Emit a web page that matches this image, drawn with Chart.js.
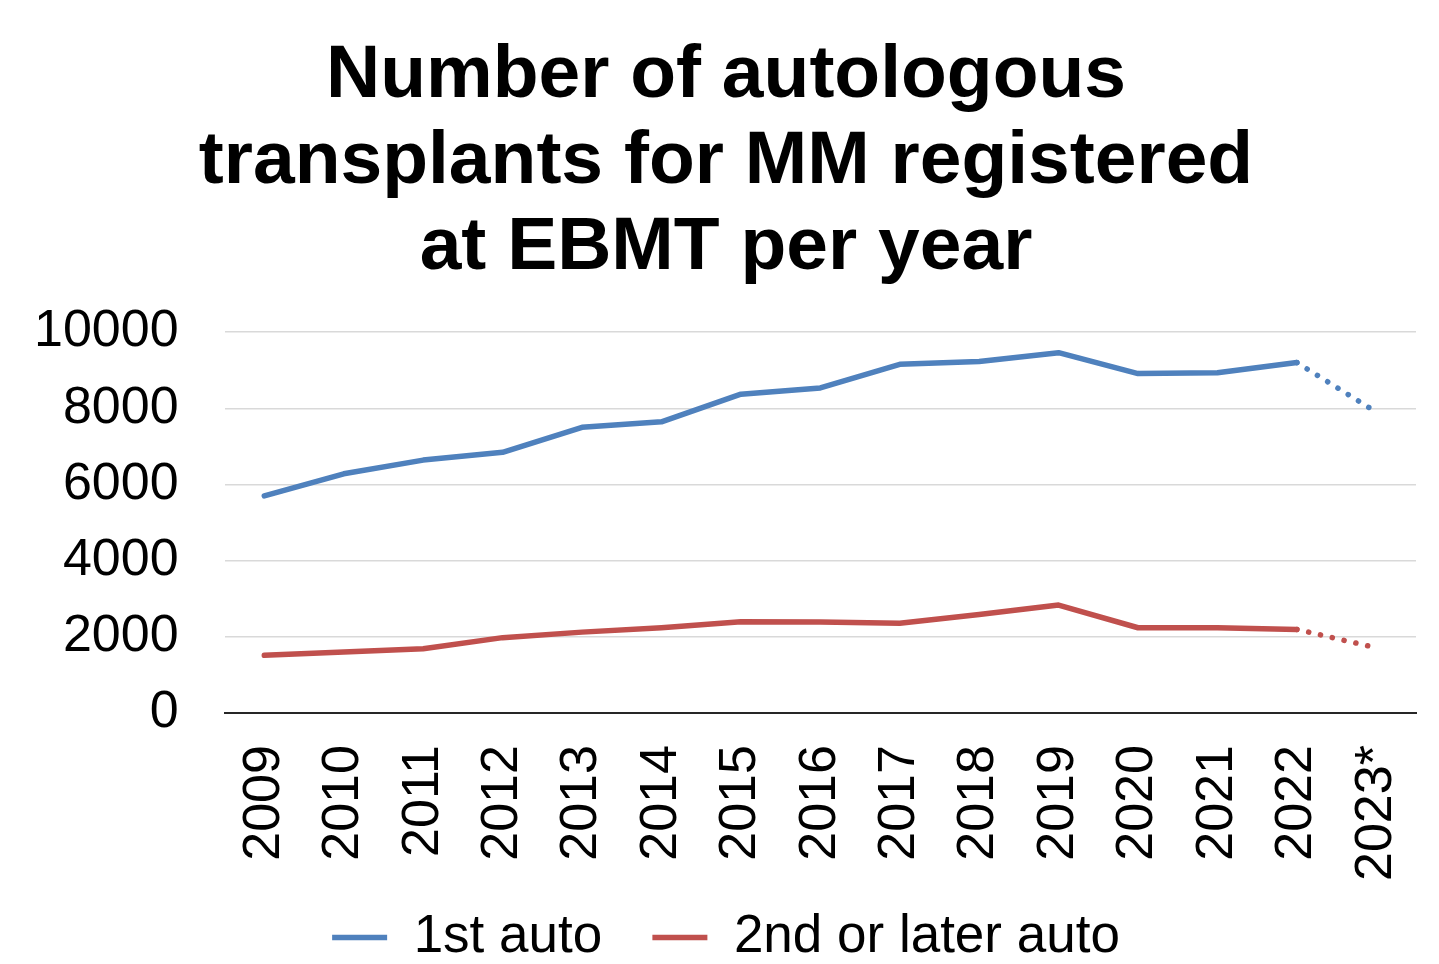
<!DOCTYPE html>
<html>
<head>
<meta charset="utf-8">
<script src="https://cdn.jsdelivr.net/npm/chart.js@4"></script>
<style>
  html, body { margin: 0; padding: 0; background: #fff; }
  #wrap { width: 1439px; height: 964px; }
</style>
</head>
<body>
<div id="wrap"><canvas id="autoChart"></canvas></div>
<script>
const years = ['2009', '2010', '2011', '2012', '2013', '2014', '2015', '2016', '2017', '2018', '2019', '2020', '2021', '2022', '2023*'];
const firstAuto = [5700, 6280, 6640, 6845, 7500, 7645, 8370, 8535, 9155, 9225, 9460, 8910, 8935, 9200, 7900];
const laterAuto = [1515, 1605, 1690, 1980, 2125, 2240, 2400, 2390, 2355, 2590, 2835, 2240, 2240, 2195, 1715];
const yTicks = [0, 2000, 4000, 6000, 8000, 10000];

const FONT = "'Liberation Sans', Arial, sans-serif";
const lastIdx = years.length - 1;

// last year is an estimate -> dotted segment
const dottedLast = {
    borderDash: ctx => ctx.p1DataIndex === lastIdx ? [0.1, 12] : undefined
};

const chart = new Chart(document.getElementById('autoChart'), {
    type: 'line',
    data: {
        labels: years,
        datasets: [
            { label: '1st auto', data: firstAuto, borderColor: '#4F81BD', backgroundColor: '#4F81BD',
              borderWidth: 5.5, borderCapStyle: 'round', borderJoinStyle: 'round', pointRadius: 0, segment: dottedLast },
            { label: '2nd or later auto', data: laterAuto, borderColor: '#C0504D', backgroundColor: '#C0504D',
              borderWidth: 5.5, borderCapStyle: 'round', borderJoinStyle: 'round', pointRadius: 0, segment: dottedLast }
        ]
    },
    options: {
        responsive: true,
        maintainAspectRatio: false,
        animation: false,
        layout: { padding: { left: 36, right: 23, top: 0, bottom: -10 } },
        plugins: {
            tooltip: { enabled: false },
            title: {
                display: true,
                text: ['Number of autologous', 'transplants for MM registered', 'at EBMT per year'],
                color: '#000',
                font: { family: FONT, size: 75, weight: 'bold', lineHeight: 1.147 },
                padding: { top: 33, bottom: 41 }
            },
            legend: {
                position: 'bottom',
                labels: {
                    color: '#000',
                    font: { family: FONT, size: 53 },
                    usePointStyle: true,
                    pointStyle: 'line',
                    pointStyleWidth: 55,
                    padding: 6,
                    // small padding keeps the legend low; spaces give the gap between items
                    generateLabels: c => Chart.defaults.plugins.legend.labels.generateLabels(c)
                        .map((item, i, all) => i < all.length - 1 ? { ...item, text: item.text + '   ' } : item)
                }
            }
        },
        scales: {
            x: {
                offset: true,
                grid: { display: false },
                border: { display: true, color: '#262626', width: 2 },
                afterFit: axis => { axis.paddingLeft = 0; axis.paddingRight = 0; },
                ticks: {
                    color: '#000',
                    font: { family: FONT, size: 52 },
                    minRotation: 90,
                    maxRotation: 90,
                    padding: 24
                }
            },
            y: {
                min: 0,
                max: 10000,
                afterBuildTicks: axis => { axis.ticks = yTicks.map(v => ({ value: v })); },
                afterFit: axis => { axis.width -= 48; },
                grid: { color: '#d9d9d9', lineWidth: 1.5, drawTicks: false },
                border: { display: false },
                ticks: {
                    color: '#000',
                    font: { family: FONT, size: 52 },
                    padding: 46,
                    callback: v => String(v)
                }
            }
        }
    }
});
</script>
</body>
</html>
